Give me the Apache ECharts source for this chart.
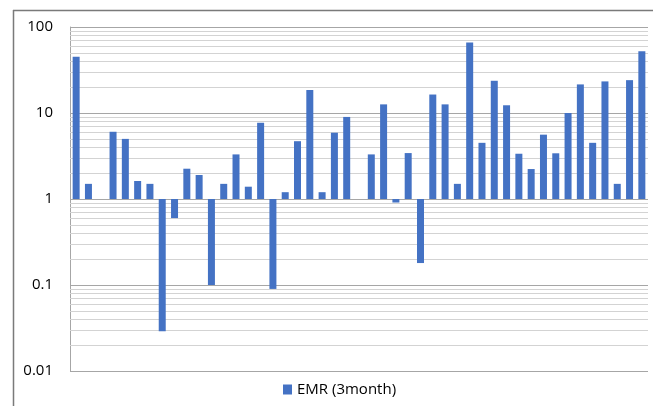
<!DOCTYPE html>
<html>
	<head>
		<meta charset="UTF-8">
		<title></title>
		<style>
			html, body { margin: 0; padding: 0; background: #fff; }
		</style>
	</head>
	<script src="https://cdn.jsdelivr.net/npm/echarts@6.0.0/dist/echarts.min.js"></script>
	<body>
		<div id="main" style="width: 653px;height:406px;"></div>
	</body>
	<script>
		// 数据
		var seriesName = 'EMR (3month)'
		var emrValues = [45, 1.5, null, 6.05, 5.0, 1.62, 1.5, 0.029, 0.6, 2.25,
			1.9, 0.1, 1.5, 3.3, 1.39, 7.7, 0.09, 1.2, 4.7, 18.5,
			1.2, 5.9, 9.0, null, 3.3, 12.6, 0.91, 3.42, 0.18, 16.4,
			12.6, 1.5, 66, 4.5, 23.7, 12.3, 3.36, 2.23, 5.6, 3.4,
			10, 21.5, 4.5, 23.3, 1.5, 24.1, 52.4]
		var categories = emrValues.map(function (v, i) { return String(i + 1) })
		var yTicks = ['0.01', '0.1', '1', '10', '100']

		// 次网格线 2..9 × 每个数量级
		var minorLines = []
		for (var d = 0.01; d < 100; d *= 10) {
			for (var k = 2; k <= 9; k++) {
				minorLines.push({ yAxis: +(d * k).toPrecision(2) })
			}
		}

		var myChart = echarts.init(document.getElementById('main'))

		var option = {
			animation: false,
			textStyle: { fontFamily: 'Open Sans' },
			grid: { left: 70, right: 5, top: 27, bottom: 35 },
			legend: {
				data: [seriesName],
				bottom: 4,
				left: 278,
				icon: 'rect',
				itemWidth: 9,
				itemHeight: 10,
				itemGap: 5,
				textStyle: { fontSize: 15, color: '#000', fontFamily: 'Open Sans' }
			},
			xAxis: {
				type: 'category',
				data: categories,
				axisLine: { show: false },
				axisTick: { show: false },
				axisLabel: { show: false }
			},
			yAxis: {
				type: 'log',
				logBase: 10,
				min: 0.01,
				max: 100,
				axisLine: { show: true, lineStyle: { color: '#a6a6a6', width: 1 } },
				axisTick: { show: false },
				axisLabel: {
					fontSize: 15,
					color: '#000',
					margin: 17,
					formatter: function (v) {
						var s = String(+Number(v).toPrecision(1))
						return yTicks.indexOf(s) >= 0 ? s : ''
					}
				},
				splitLine: { show: true, lineStyle: { color: '#a6a6a6', width: 1.2 } }
			},
			series: [
				{
					type: 'line',
					data: [],
					z: 1,
					silent: true,
					markLine: {
						z: 1,
						silent: true,
						symbol: ['none', 'none'],
						label: { show: false },
						lineStyle: { color: '#d3d3d3', width: 1.2, type: 'solid' },
						data: minorLines
					}
				},
				{
					name: seriesName,
					type: 'bar',
					z: 3,
					barWidth: 7,
					itemStyle: { color: '#4472C4' },
					data: emrValues
				}
			],
			graphic: [
				{
					type: 'line',
					shape: { x1: 13, y1: 10.5, x2: 653, y2: 10.5 },
					style: { stroke: '#7a7a7a', lineWidth: 1.5 }
				},
				{
					type: 'line',
					shape: { x1: 13.5, y1: 10, x2: 13.5, y2: 406 },
					style: { stroke: '#7a7a7a', lineWidth: 1.5 }
				}
			]
		}

		myChart.setOption(option)
	</script>
</html>
